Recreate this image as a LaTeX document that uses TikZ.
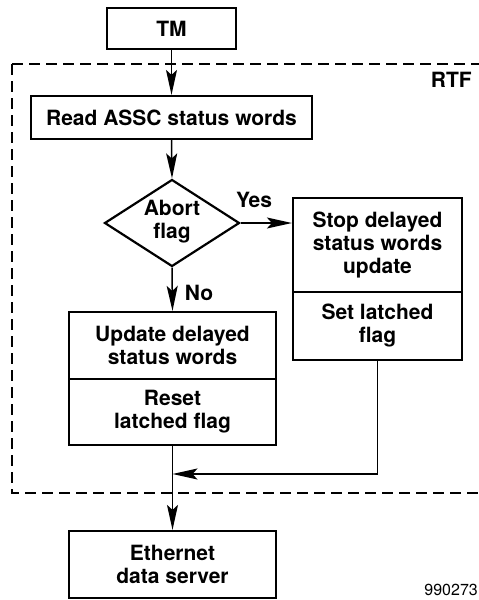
\documentclass[tikz,border=0pt]{standalone}
\usepackage{fontspec}
\setmainfont{TeX Gyre Heros}
\usetikzlibrary{shapes.geometric,arrows.meta}
\begin{document}
\begin{tikzpicture}[x=1pt,y=-1pt,
  box/.style={draw,line width=2.2pt,rectangle,inner sep=0pt,align=center,
    font=\fontsize{21}{23}\selectfont\bfseries},
  lbl/.style={inner sep=0pt,font=\fontsize{21}{23}\selectfont\bfseries,align=center},
  conn/.style={line width=1.5pt},
  arr/.style={conn,-{Stealth[length=25pt,width=11pt,inset=5pt]}}]
\useasboundingbox (0,0) rectangle (479,600);
\clip (0,0) rectangle (479,600);
\draw[line width=2.2pt,dash pattern=on 11pt off 6pt] (12,64) -- (495,64) (12,64) -- (12,493) -- (495,493);
\node[lbl,anchor=east] (rtf) at (472,80) {RTF};
\node[box,minimum width=129pt,minimum height=41pt] (tm) at (171.5,28.5) {TM};
\node[box,minimum width=281pt,minimum height=43pt] (read) at (171.5,117.5) {Read ASSC status words};
\node[draw,line width=2.2pt,diamond,minimum width=135pt,minimum height=87pt,inner sep=0pt] (dia) at (172,223) {};
\node[lbl] (diat) at (172,222) {Abort\\flag};
\node[box,minimum width=169pt,minimum height=94pt] (stop1) at (377.5,245) {Stop delayed\\status words\\update};
\node[box,minimum width=169pt,minimum height=68pt] (stop2) at (377.5,326) {Set latched\\flag};
\node[box,minimum width=207pt,minimum height=67pt] (upd1) at (172.5,345.5) {Update delayed\\status words};
\node[box,minimum width=207pt,minimum height=66pt] (upd2) at (172.5,412) {Reset\\latched flag};
\node[box,minimum width=207pt,minimum height=67pt] (eth) at (172.5,564.5) {Ethernet\\data server};
\node[lbl] (yes) at (254,200) {Yes};
\node[lbl] (no) at (199,293) {No};
\node[inner sep=0pt,anchor=base east,font=\fontsize{16}{18}\selectfont] (num) at (478,595) {990273};
\coordinate (m) at (172.5,474);
\draw[arr] (tm.south) -- (read.north);
\draw[arr] (read.south) -- (dia.north);
\draw[arr] (dia.east) -- (dia.east -| stop1.west);
\draw[arr] (dia.south) -- (upd1.north);
\draw[arr] (stop2.south) |- (m);
\draw[arr] (upd2.south) -- (eth.north);
\end{tikzpicture}
\end{document}
